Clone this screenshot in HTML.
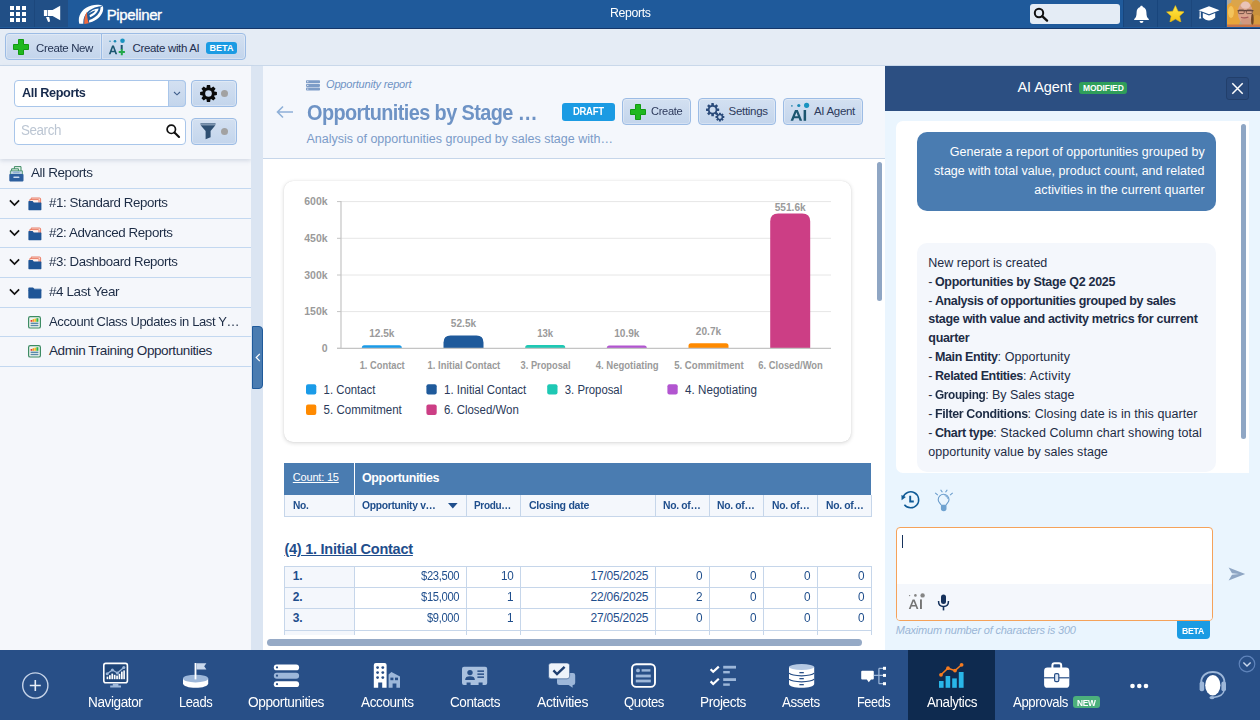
<!DOCTYPE html>
<html lang="en"><head>
<meta charset="utf-8">
<title>Reports</title>
<style>
*{box-sizing:border-box;margin:0;padding:0}
html,body{width:1260px;height:720px;overflow:hidden;background:#f4f7fc;font-family:"Liberation Sans",sans-serif;font-size:13px;color:#1d2c45}
.abs{position:absolute}
#app{position:relative;width:1260px;height:720px;overflow:hidden}
/* top bar */
#top{left:0;top:0;width:1260px;height:29px;background:#1f5a9b;border-bottom:1px solid #15376a;z-index:2}
#top .sq{position:absolute;top:0;height:26.7px;background:#214f86;border-right:1px solid #1c477c}
#top .title{position:absolute;left:0;width:1260px;top:5px;text-align:center;color:#fff;font-size:12.5px}
/* toolbar */
#tool{left:0;top:28px;width:1260px;height:38px;background:#e5ecf5;border-bottom:1px solid #c9d8ea}
.btn{position:absolute;background:linear-gradient(#d3e0f1,#c3d5ec);border:1px solid #9cbce5;box-shadow:inset 0 0 0 1px rgba(255,255,255,.3);border-radius:3px;font-size:12px;color:#1f2f4f;white-space:nowrap}
/* left */
#left{left:0;top:66px;width:251px;height:584px;background:#f5f7fb}
#lefthead{left:0;top:0;width:251px;height:93px;background:#f5f7fb;box-shadow:0 2px 4px rgba(120,140,170,.25)}
.row{position:absolute;left:0;width:251px;height:30px;border-bottom:1px solid #c3d8f0;font-size:13.5px;color:#1d2c45;white-space:nowrap}
.row span{position:absolute;top:6px;line-height:16px}
#split{left:251px;top:66px;width:12px;height:584px;background:#dbe5f2}
/* main */
#main{left:263px;top:66px;width:622px;height:584px;background:#fff}
#mhead{left:0;top:0;width:622px;height:93px;background:#f4f7fc;border-bottom:1px solid #c6d6ea}
/* AI panel */
#ai{left:885px;top:66px;width:375px;height:584px;background:#eaf5fe}
#aihead{left:0;top:0;width:375px;height:45px;background:#2c4f82}
/* bottom nav */
#nav{left:0;top:650px;width:1260px;height:70px;background:#284f87}
.ni{position:absolute;top:0;height:70px;color:#fff;font-size:14px;text-align:center}
.ni .lb{position:absolute;left:-30px;right:-30px;top:43px;text-align:center;white-space:nowrap}
.th{font-size:11px;line-height:14px;font-weight:700;color:#1f4e8c;white-space:nowrap}
.td{font-size:12px;line-height:14px;color:#1f4e8c;white-space:nowrap}
.bl{font-size:12.5px;line-height:18px;color:#fff;white-space:nowrap}
.gl{font-size:12.5px;line-height:18px;color:#1d2c45;white-space:nowrap}
.nl{font-size:14px;line-height:17px;color:#fff;white-space:nowrap}
</style>
</head>
<body>
<div id="app">

<!-- TOPBAR -->
<div id="top" class="abs">
  <div class="sq" style="left:0;width:35px"></div>
  <div class="sq" style="left:35px;width:33px;border-right:none"></div>
  <svg class="abs" style="left:10px;top:6px" width="17" height="17" viewBox="0 0 17 17" fill="#fff">
    <rect x="0" y="0" width="4" height="4"></rect><rect x="6" y="0" width="4" height="4"></rect><rect x="12" y="0" width="4" height="4"></rect>
    <rect x="0" y="6" width="4" height="4"></rect><rect x="6" y="6" width="4" height="4"></rect><rect x="12" y="6" width="4" height="4"></rect>
    <rect x="0" y="12" width="4" height="4"></rect><rect x="6" y="12" width="4" height="4"></rect><rect x="12" y="12" width="4" height="4"></rect>
  </svg>
  <svg class="abs" style="left:43px;top:5px" width="18" height="18" viewBox="0 0 18 18" fill="#fff">
    <rect x="0.9" y="5" width="3.3" height="6" rx=".6"></rect>
    <path d="M4.8 5 H9.6 L17.2 0.7 V15.3 L9.6 11 H4.8 Z"></path>
    <path d="M3 12 H6.2 L7.1 16.6 L5.1 16.9 Z"></path>
  </svg>
  <svg class="abs" style="left:78px;top:4px" width="27" height="21" viewBox="0 0 27 21">
    <path d="M1.3 19.8 C-0.8 12 4 4 13.6 1.5 C18 0.4 22.4 0.7 24.8 2 C19.8 2.3 13.6 4 9.6 8 C6.2 11.4 5 15.6 5.4 19.8 Z" fill="#fff"></path>
    <path d="M24.8 2 C26.4 6.6 23.4 12.2 18.4 15.6 C15.4 17.6 12.8 18.4 10.9 18.4 L11.3 16 C14.8 15.2 19 12.4 21.2 8.6 C22.2 6.8 22.6 5 22.4 3.6 Z" fill="#fff"></path>
    <path d="M9.6 10.2 C12.6 6.6 16.6 4.6 20.6 4.4 C20.2 7.4 17 11.2 12 13.2 L11.5 11.2 C14.4 10 16.6 8.2 17.4 6.6 C14.6 7.2 11.8 8.6 9.6 10.2 Z" fill="#fff"></path>
    <path d="M6.3 19.9 C6 15 6.9 11 9 7.8 C9 12 9.5 16 10.8 19.3 Z" fill="#f26a3e"></path>
  </svg>
  <span class="abs" style="left: 106.7px; top: 5.5px; color: rgb(255, 255, 255); font-size: 15px; line-height: 18px; -webkit-text-stroke: 0.35px rgb(255, 255, 255); white-space: nowrap; letter-spacing: -0.37px;">Pipeliner</span>
  <span class="abs" style="left: 609.7px; top: 6px; color: rgb(255, 255, 255); font-size: 12.5px; line-height: 15px; white-space: nowrap; letter-spacing: -0.37px; transform: scaleX(0.986); transform-origin: 0px 50%;">Reports</span>
  <div class="abs" style="left:1030px;top:4px;width:90px;height:20px;background:#e4ecf5;border-radius:3px"></div>
  <svg class="abs" style="left:1033px;top:7px" width="16" height="15" viewBox="0 0 16 15" fill="none" stroke="#111" stroke-width="2">
    <circle cx="6" cy="6" r="4.2"></circle><path d="M9.2 9.2 L14 13.6" stroke-width="2.4" stroke-linecap="round"></path>
  </svg>
  <div class="sq" style="left:1123px;width:35px;border-right:1px solid #18457c;border-left:1px solid #18457c"></div>
  <div class="sq" style="left:1158px;width:34px"></div>
  <div class="sq" style="left:1192px;width:34px"></div>
  <svg class="abs" style="left:1133px;top:5px" width="17" height="19" viewBox="0 0 17 19" fill="#fff">
    <path d="M8.5 0.8 C9.3 0.8 9.8 1.3 9.8 2.1 C12.2 2.8 13.4 4.8 13.4 7.4 C13.4 11 14.2 12.6 15.8 14 L15.8 15 L1.2 15 L1.2 14 C2.8 12.6 3.6 11 3.6 7.4 C3.6 4.8 4.8 2.8 7.2 2.1 C7.2 1.3 7.7 0.8 8.5 0.8Z"></path>
    <path d="M6.6 16 L10.4 16 C10.4 17.2 9.6 18 8.5 18 C7.4 18 6.6 17.2 6.6 16Z"></path>
  </svg>
  <svg class="abs" style="left:1165.6px;top:4.6px" width="18.8" height="17.9" viewBox="0 0 20 19">
    <defs><linearGradient id="stg" x1="0" y1="0" x2="0" y2="1"><stop offset="0" stop-color="#ffe94a"></stop><stop offset="1" stop-color="#f5c211"></stop></linearGradient></defs>
    <path d="M10 0.6 L12.8 6.6 L19.4 7.3 L14.5 11.8 L15.9 18.3 L10 15 L4.1 18.3 L5.5 11.8 L0.6 7.3 L7.2 6.6 Z" fill="url(#stg)" stroke="#e8b90f" stroke-width=".6" stroke-linejoin="round"></path>
  </svg>
  <svg class="abs" style="left:1198px;top:6px" width="22" height="16" viewBox="0 0 22 16" fill="#fff">
    <path d="M11 0.3 L21.5 4.2 L11 8.2 L0.5 4.2 Z"></path>
    <path d="M4.8 7 L11 9.4 L17.2 7 L17.2 11.6 C15.5 13.6 13.2 14.4 11 14.4 C8.8 14.4 6.5 13.6 4.8 11.6 Z"></path>
    <path d="M1.6 5.2 L2.8 5.6 L2.8 10.6 L3.4 12.6 L1 12.6 L1.6 10.6 Z"></path>
  </svg>
  <svg class="abs" style="left:1227px;top:0" width="33" height="27" viewBox="0 0 33 27">
    <defs><filter id="avb" x="-20%" y="-20%" width="140%" height="140%"><feGaussianBlur stdDeviation="0.65"></feGaussianBlur></filter>
    <clipPath id="avc"><rect width="33" height="27"></rect></clipPath></defs>
    <g clip-path="url(#avc)">
    <rect width="33" height="27" fill="#b3a48a"></rect>
    <g filter="url(#avb)">
      <rect x="-2" y="-2" width="9" height="9" fill="#a9a8a4"></rect>
      <rect x="27" y="-2" width="8" height="6" fill="#b0a898"></rect>
      <ellipse cx="5.5" cy="16" rx="8.5" ry="13.5" fill="#e7a53a"></ellipse>
      <ellipse cx="4" cy="12" rx="3" ry="6" fill="#f3c35c"></ellipse>
      <ellipse cx="15" cy="2" rx="11" ry="5.5" fill="#dba54c"></ellipse>
      <ellipse cx="29" cy="14" rx="6.5" ry="14" fill="#c9913d"></ellipse>
      <ellipse cx="30" cy="22" rx="5" ry="7" fill="#d69a3e"></ellipse>
      <ellipse cx="18.2" cy="12.6" rx="7.4" ry="11" fill="#d9a28b"></ellipse>
      <ellipse cx="18.5" cy="5.2" rx="4.6" ry="3.6" fill="#e9c3b8"></ellipse>
      <ellipse cx="19" cy="21" rx="5" ry="4" fill="#d09880"></ellipse>
      <ellipse cx="25.4" cy="19.5" rx="1.3" ry="6" fill="#6e4426"></ellipse>
      <rect x="0" y="24.5" width="33" height="3" fill="#c9764a"></rect>
      <path d="M10.6 10.6 H26.4" stroke="#5b4038" stroke-width="1.3"></path>
      <rect x="11.4" y="10" width="5.8" height="3.6" rx="1" fill="none" stroke="#6a4a40" stroke-width=".9"></rect>
      <rect x="19.4" y="10" width="5.8" height="3.6" rx="1" fill="none" stroke="#6a4a40" stroke-width=".9"></rect>
      <path d="M14 17.2 Q17.5 18.6 21.4 17" stroke="#a5585a" stroke-width="1.1" fill="none"></path>
    </g></g>
  </svg>
</div>

<!-- TOOLBAR -->
<div id="tool" class="abs">
  <div class="btn" style="left:5px;top:5px;width:97px;height:27px;border-radius:4px 0 0 4px"></div>
  <div class="btn" style="left:101px;top:5px;width:145px;height:27px;border-radius:0 4px 4px 0"></div>
  <svg class="abs" style="left:13px;top:11px" width="16" height="16" viewBox="0 0 16 16">
    <path d="M5.5 0.5 H10.5 V5.5 H15.5 V10.5 H10.5 V15.5 H5.5 V10.5 H0.5 V5.5 H5.5 Z" fill="#1fb81f" stroke="#129a12" stroke-width="1"></path>
  </svg>
  <span class="abs" style="left: 35.8px; top: 13px; font-size: 11.5px; line-height: 14px; color: rgb(31, 47, 79); letter-spacing: -0.34px; transform: scaleX(0.995); transform-origin: 0px 50%;">Create New</span>
  <svg class="abs" style="left:108px;top:10px" width="19" height="18" viewBox="0 0 19 18">
    <circle cx="2" cy="3.2" r="0.7" fill="#1b7fa8"></circle><circle cx="7" cy="3.2" r="1.3" fill="#1b8ab5"></circle><circle cx="14.5" cy="2.8" r="2.3" fill="#1a93c0"></circle>
    <path d="M0.8 16.2 L4.1 7.6 L5.9 7.6 L9.2 16.2 L7.4 16.2 L6.7 14.2 L3.3 14.2 L2.6 16.2 Z M3.8 12.7 L6.2 12.7 L5 9.4 Z" fill="#1c5670"></path>
    <rect x="12.7" y="7" width="2" height="4.6" fill="#1c5670"></rect>
    <path d="M12.8 11 h2 v2.1 h2.1 v2 h-2.1 v2.1 h-2 v-2.1 h-2.1 v-2 h2.1 Z" fill="#22a84a"></path>
  </svg>
  <span class="abs" style="left: 132.5px; top: 13px; font-size: 11.5px; line-height: 14px; color: rgb(31, 47, 79); letter-spacing: -0.33px;">Create with AI</span>
  <div class="abs" style="left:206px;top:14px;width:31px;height:12px;background:#1b9be3;border-radius:3px"></div>
  <span class="abs" style="left: 209.5px; top: 15px; font-size: 9px; line-height: 10px; font-weight: 700; color: rgb(255, 255, 255); letter-spacing: 0.04px;">BETA</span>
</div>

<!-- LEFT -->
<div id="left" class="abs">
  <div class="row" style="top:92px;height:31px"><svg class="abs" style="left:9px;top:7.7px" width="15" height="16" viewBox="0 0 15 16">
      <path d="M5.4 0.6 H12 V8 H5.4 Z" fill="#e6f1ea" stroke="#3d8b63" stroke-width="1"></path>
      <path d="M2.6 2.8 H9.4 V8.4 H2.6 Z" fill="#dfeee5" stroke="#3d8b63" stroke-width="1"></path>
      <path d="M1.4 4.8 H13.4 V8.4 H1.4 Z" fill="#c4d6e8" stroke="#3d8b63" stroke-width=".8"></path>
      <rect x="4.2" y="5.6" width="6.4" height="1.6" fill="#8fb0d2"></rect>
      <rect x="0.3" y="8" width="14.2" height="7.4" rx=".8" fill="#2d5f9e"></rect>
      <rect x="4.4" y="10.4" width="6" height="1.7" rx=".5" fill="#c9d9ee"></rect>
    </svg><span style="left: 31px; top: 7px; letter-spacing: -0.4px; transform: scaleX(0.999); transform-origin: 0px 50%;">All Reports</span></div>
  <div class="row" style="top:123px"><svg class="abs" style="left:8px;top:10px" width="13" height="9" viewBox="0 0 13 9" fill="none" stroke="#111" stroke-width="1.7"><path d="M1.9 1.4 L6.5 6 L11.1 1.4"></path></svg><svg class="abs" style="left:28px;top:8px" width="14" height="14" viewBox="0 0 14 14">
      <path d="M3.2 1 H11.6 Q12.6 1 12.6 2 V7 H3.2 Z" fill="#fbdcd4" stroke="#e8735a" stroke-width=".9"></path>
      <path d="M1.8 2.6 H10 Q11 2.6 11 3.6 V8 H1.8 Z" fill="#fff1ed" stroke="#e8735a" stroke-width=".9"></path>
      <path d="M0.4 4.6 Q0.4 4 1 4 H4.6 L5.8 5.4 H12.8 Q13.4 5.4 13.4 6 V12.6 Q13.4 13.2 12.8 13.2 H1 Q0.4 13.2 0.4 12.6 Z" fill="#1f5596"></path>
    </svg><span style="left: 49px; letter-spacing: -0.4px; transform: scaleX(0.985); transform-origin: 0px 50%;">#1: Standard Reports</span></div>
  <div class="row" style="top:153px;height:29px"><svg class="abs" style="left:8px;top:10px" width="13" height="9" viewBox="0 0 13 9" fill="none" stroke="#111" stroke-width="1.7"><path d="M1.9 1.4 L6.5 6 L11.1 1.4"></path></svg><svg class="abs" style="left:28px;top:8px" width="14" height="14" viewBox="0 0 14 14">
      <path d="M3.2 1 H11.6 Q12.6 1 12.6 2 V7 H3.2 Z" fill="#fbdcd4" stroke="#e8735a" stroke-width=".9"></path>
      <path d="M1.8 2.6 H10 Q11 2.6 11 3.6 V8 H1.8 Z" fill="#fff1ed" stroke="#e8735a" stroke-width=".9"></path>
      <path d="M0.4 4.6 Q0.4 4 1 4 H4.6 L5.8 5.4 H12.8 Q13.4 5.4 13.4 6 V12.6 Q13.4 13.2 12.8 13.2 H1 Q0.4 13.2 0.4 12.6 Z" fill="#1f5596"></path>
    </svg><span style="left: 49px; letter-spacing: -0.4px; transform: scaleX(0.99); transform-origin: 0px 50%;">#2: Advanced Reports</span></div>
  <div class="row" style="top:182px"><svg class="abs" style="left:8px;top:10px" width="13" height="9" viewBox="0 0 13 9" fill="none" stroke="#111" stroke-width="1.7"><path d="M1.9 1.4 L6.5 6 L11.1 1.4"></path></svg><svg class="abs" style="left:28px;top:8px" width="14" height="14" viewBox="0 0 14 14">
      <path d="M3.2 1 H11.6 Q12.6 1 12.6 2 V7 H3.2 Z" fill="#fbdcd4" stroke="#e8735a" stroke-width=".9"></path>
      <path d="M1.8 2.6 H10 Q11 2.6 11 3.6 V8 H1.8 Z" fill="#fff1ed" stroke="#e8735a" stroke-width=".9"></path>
      <path d="M0.4 4.6 Q0.4 4 1 4 H4.6 L5.8 5.4 H12.8 Q13.4 5.4 13.4 6 V12.6 Q13.4 13.2 12.8 13.2 H1 Q0.4 13.2 0.4 12.6 Z" fill="#1f5596"></path>
    </svg><span style="left: 49px; letter-spacing: -0.4px; transform: scaleX(0.98); transform-origin: 0px 50%;">#3: Dashboard Reports</span></div>
  <div class="row" style="top:212px"><svg class="abs" style="left:8px;top:10px" width="13" height="9" viewBox="0 0 13 9" fill="none" stroke="#111" stroke-width="1.7"><path d="M1.9 1.4 L6.5 6 L11.1 1.4"></path></svg><svg class="abs" style="left:28px;top:9px" width="14" height="12" viewBox="0 0 14 12">
      <path d="M0.3 1.2 Q0.3 0.4 1.1 0.4 H5 L6.4 1.8 H12.6 Q13.4 1.8 13.4 2.6 V3.4 H0.3 Z" fill="#1f5596"></path>
      <path d="M0.3 3 H13.4 V10.6 Q13.4 11.4 12.6 11.4 H1.1 Q0.3 11.4 0.3 10.6 Z" fill="#1f5596"></path>
      <path d="M6.4 2.4 H13" stroke="#6f98c8" stroke-width=".5"></path>
    </svg><span style="left: 49px; letter-spacing: -0.4px; transform: scaleX(0.997); transform-origin: 0px 50%;">#4 Last Year</span></div>
  <div class="row" style="top:242px;height:29px"><svg class="abs" style="left:28px;top:8px" width="13" height="13" viewBox="0 0 13 13">
      <rect x="0.6" y="0.6" width="11.8" height="11.4" rx="1.6" fill="#eef5f0" stroke="#3d8b63" stroke-width="1.2"></rect>
      <rect x="2.6" y="4" width="1.8" height="1.8" fill="#e8382f"></rect><rect x="4.6" y="3.2" width="1.8" height="2.6" fill="#f39a1f"></rect><rect x="6.6" y="2.6" width="1.6" height="3.2" fill="#f3c11f"></rect><rect x="8.4" y="2.2" width="2" height="3.6" fill="#2fb344"></rect>
      <rect x="2.6" y="6.6" width="7.8" height="1.4" fill="#5b8aa8"></rect><rect x="2.6" y="8.8" width="7.8" height="1.4" fill="#5b8aa8"></rect>
    </svg><span style="left: 49px; letter-spacing: -0.4px; transform: scaleX(0.965); transform-origin: 0px 50%;">Account Class Updates in Last Y…</span></div>
  <div class="row" style="top:271px"><svg class="abs" style="left:28px;top:8px" width="13" height="13" viewBox="0 0 13 13">
      <rect x="0.6" y="0.6" width="11.8" height="11.4" rx="1.6" fill="#eef5f0" stroke="#3d8b63" stroke-width="1.2"></rect>
      <rect x="2.6" y="4" width="1.8" height="1.8" fill="#e8382f"></rect><rect x="4.6" y="3.2" width="1.8" height="2.6" fill="#f39a1f"></rect><rect x="6.6" y="2.6" width="1.6" height="3.2" fill="#f3c11f"></rect><rect x="8.4" y="2.2" width="2" height="3.6" fill="#2fb344"></rect>
      <rect x="2.6" y="6.6" width="7.8" height="1.4" fill="#5b8aa8"></rect><rect x="2.6" y="8.8" width="7.8" height="1.4" fill="#5b8aa8"></rect>
    </svg><span style="left: 49px; letter-spacing: -0.4px;">Admin Training Opportunities</span></div>
  <div id="lefthead" class="abs">
    <div class="abs" style="left:14px;top:14px;width:172px;height:27px;background:#fff;border:1px solid #a9c6ea;border-radius:4px"></div>
    <div class="abs" style="left:168px;top:14px;width:18px;height:27px;background:linear-gradient(#d3e0f1,#c3d5ec);border:1px solid #a9c6ea;border-radius:0 4px 4px 0"></div>
    <svg class="abs" style="left:172px;top:24px" width="10" height="7" viewBox="0 0 10 7" fill="none" stroke="#41608c" stroke-width="1.1"><path d="M2 2 L5 4.8 L8 2"></path></svg>
    <span class="abs" style="left: 21.5px; top: 19px; font-size: 13px; line-height: 16px; font-weight: 700; color: rgb(23, 42, 76); letter-spacing: -0.39px; transform: scaleX(0.976); transform-origin: 0px 50%;">All Reports</span>
    <div class="btn" style="left:191px;top:14px;width:46px;height:27px;border-radius:4px"></div>
    <svg class="abs" style="left:199.5px;top:19px" width="17" height="17" viewBox="-8.5 -8.5 17 17">
      <g fill="#0a0a0a">
        <circle r="6"></circle>
        <g><path d="M-1.6 -8.4 H1.6 L2.2 -5 H-2.2 Z"></path><path d="M-1.6 8.4 H1.6 L2.2 5 H-2.2 Z"></path></g><g transform="rotate(45)"><path d="M-1.6 -8.4 H1.6 L2.2 -5 H-2.2 Z"></path><path d="M-1.6 8.4 H1.6 L2.2 5 H-2.2 Z"></path></g><g transform="rotate(90)"><path d="M-1.6 -8.4 H1.6 L2.2 -5 H-2.2 Z"></path><path d="M-1.6 8.4 H1.6 L2.2 5 H-2.2 Z"></path></g><g transform="rotate(135)"><path d="M-1.6 -8.4 H1.6 L2.2 -5 H-2.2 Z"></path><path d="M-1.6 8.4 H1.6 L2.2 5 H-2.2 Z"></path></g>
      </g>
      <circle r="3.3" fill="#cbdaee"></circle>
    </svg>
    <div class="abs" style="left:221px;top:24px;width:7px;height:7px;border-radius:50%;background:#a2a2a2"></div>
    <div class="abs" style="left:14px;top:52px;width:172px;height:27px;background:#fff;border:1px solid #a9c6ea;border-radius:4px"></div>
    <span class="abs" style="left: 21px; top: 56px; font-size: 14px; line-height: 17px; color: rgb(188, 198, 211); letter-spacing: -0.42px; transform: scaleX(0.956); transform-origin: 0px 50%;">Search</span>
    <svg class="abs" style="left:165px;top:57px" width="16" height="16" viewBox="0 0 16 16" fill="none" stroke="#111" stroke-width="1.7"><circle cx="6.3" cy="6.3" r="4.2"></circle><path d="M9.5 9.5 L14 14" stroke-width="2.1" stroke-linecap="round"></path></svg>
    <div class="btn" style="left:191px;top:52px;width:46px;height:27px;border-radius:4px"></div>
    <svg class="abs" style="left:199.5px;top:56.5px" width="16" height="17" viewBox="0 0 16 17" fill="#2e4f72">
      <rect x="0.4" y="0.4" width="15.2" height="1.1"></rect>
      <path d="M0.6 2.2 H15.4 L10.6 8 V14.2 L5.6 16.2 V8 Z"></path>
    </svg>
    <div class="abs" style="left:221px;top:62px;width:7px;height:7px;border-radius:50%;background:#a2a2a2"></div>
  </div>
</div>
<div id="split" class="abs">
  <div class="abs" style="left:1px;top:260px;width:11px;height:63px;background:#4a7cb1;border:1px solid #1f5a9b;border-radius:0 4px 4px 0"></div>
  <svg class="abs" style="left:3.5px;top:287px" width="6" height="9" viewBox="0 0 6 9" fill="none" stroke="#fff" stroke-width="1.2"><path d="M4.8 0.8 L1.2 4.5 L4.8 8.2"></path></svg>
</div>

<!-- MAIN -->
<div id="main" class="abs">
  <div id="mhead" class="abs">
    <svg class="abs" style="left:43px;top:14px" width="14" height="11" viewBox="0 0 14 11" fill="#7d9cc7">
      <rect x="0" y="0.2" width="14" height="3" rx=".8"></rect><rect x="0" y="3.9" width="14" height="3" rx=".8"></rect><rect x="0" y="7.6" width="14" height="3" rx=".8"></rect>
      <circle cx="1.8" cy="1.7" r=".6" fill="#f4f7fc"></circle><circle cx="1.8" cy="5.4" r=".6" fill="#f4f7fc"></circle><circle cx="1.8" cy="9.1" r=".6" fill="#f4f7fc"></circle>
    </svg>
    <span class="abs" style="left: 63px; top: 11px; font-size: 11px; line-height: 14px; font-style: italic; color: rgb(111, 147, 196); letter-spacing: -0.18px;">Opportunity report</span>
    <svg class="abs" style="left:13px;top:39px" width="18" height="14" viewBox="0 0 18 14" fill="none" stroke="#8fb0d8" stroke-width="1.6"><path d="M17 7 H1.5 M7 1.5 L1.5 7 L7 12.5"></path></svg>
    <span class="abs" style="left: 43.5px; top: 34.3px; font-size: 21.5px; line-height: 26px; font-weight: 700; color: rgb(110, 147, 197); white-space: nowrap; letter-spacing: -0.64px; transform: scaleX(0.925); transform-origin: 0px 50%;">Opportunities by Stage …</span>
    <span class="abs" style="left: 43.5px; top: 66.3px; font-size: 12.5px; line-height: 15px; color: rgb(123, 155, 200); white-space: nowrap; letter-spacing: 0px;">Analysis of opportunities grouped by sales stage with…</span>
    <div class="abs" style="left:299px;top:37px;width:53px;height:18px;background:#1b9be3;border-radius:3px"></div>
    <span class="abs" style="left: 310.3px; top: 40.3px; font-size: 10px; line-height: 11px; font-weight: 700; color: rgb(255, 255, 255); letter-spacing: -0.3px; transform: scaleX(0.948); transform-origin: 0px 50%;">DRAFT</span>

    <div class="btn" style="left:359px;top:32px;width:69px;height:27px;border-radius:4px"></div>
    <svg class="abs" style="left:367px;top:38px" width="16" height="16" viewBox="0 0 16 16">
      <path d="M5.5 0.5 H10.5 V5.5 H15.5 V10.5 H10.5 V15.5 H5.5 V10.5 H0.5 V5.5 H5.5 Z" fill="#1fb81f" stroke="#129a12" stroke-width="1"></path>
    </svg>
    <span class="abs" style="left: 388px; top: 37.5px; font-size: 11.5px; line-height: 14px; color: rgb(45, 58, 92); letter-spacing: -0.34px; transform: scaleX(0.964); transform-origin: 0px 50%;">Create</span>

    <div class="btn" style="left:435px;top:32px;width:78px;height:27px;border-radius:4px"></div>
    <svg class="abs" style="left:442px;top:36px" width="20" height="20" viewBox="0 0 20 20">
      <g transform="translate(7.6 7.7)" fill="#2a4a7a">
        <circle r="4.8"></circle>
        <rect x="-1.3" y="-6.6" width="2.6" height="13.2" rx=".4"></rect><g transform="rotate(45)"><rect x="-1.3" y="-6.6" width="2.6" height="13.2" rx=".4"></rect></g><g transform="rotate(90)"><rect x="-1.3" y="-6.6" width="2.6" height="13.2" rx=".4"></rect></g><g transform="rotate(135)"><rect x="-1.3" y="-6.6" width="2.6" height="13.2" rx=".4"></rect></g>
        <circle r="3" fill="#cbdaee"></circle>
      </g>
      <g transform="translate(14.9 15.1)" fill="#2a4a7a">
        <circle r="3.1"></circle>
        <rect x="-1" y="-4.4" width="2" height="8.8" rx=".3"></rect><g transform="rotate(45)"><rect x="-1" y="-4.4" width="2" height="8.8" rx=".3"></rect></g><g transform="rotate(90)"><rect x="-1" y="-4.4" width="2" height="8.8" rx=".3"></rect></g><g transform="rotate(135)"><rect x="-1" y="-4.4" width="2" height="8.8" rx=".3"></rect></g>
        <circle r="1.8" fill="#c7d8ed"></circle>
      </g>
    </svg>
    <span class="abs" style="left: 465.6px; top: 37.5px; font-size: 11.5px; line-height: 14px; color: rgb(45, 58, 92); letter-spacing: -0.3px;">Settings</span>

    <div class="btn" style="left:520px;top:32px;width:80px;height:27px;border-radius:4px"></div>
    <svg class="abs" style="left:527px;top:36px" width="21" height="20" viewBox="0 0 21 20">
      <circle cx="1.9" cy="3.9" r="0.8" fill="#1b7fa8"></circle><circle cx="8.8" cy="3.5" r="1.6" fill="#1b8ab5"></circle><circle cx="16.6" cy="3.3" r="2.6" fill="#1a93c0"></circle>
      <path d="M0.6 18.8 L5 8 L7.8 8 L12.2 18.8 L9.6 18.8 L8.7 16.3 L4.1 16.3 L3.2 18.8 Z M4.9 14.2 L7.9 14.2 L6.4 10.2 Z" fill="#1c5670"></path>
      <rect x="13.6" y="8" width="2.5" height="10.8" fill="#1c5670"></rect>
    </svg>
    <span class="abs" style="left: 551px; top: 37.5px; font-size: 11.5px; line-height: 14px; color: rgb(45, 58, 92); letter-spacing: -0.31px;">AI Agent</span>
  </div>
  
  <div class="abs" style="left:21px;top:114.6px;width:567px;height:261.4px;background:#fff;border-radius:9px;box-shadow:0 1px 4px rgba(0,0,0,.16),0 0 1px rgba(0,0,0,.12)"></div>
  <svg class="abs" style="left:0;top:0" width="622" height="584" viewBox="263 66 622 584">
    <style>.cl{font:700 10.5px "Liberation Sans",sans-serif;fill:#9a9a9a}.lg{font:400 12px "Liberation Sans",sans-serif;fill:#2a3a5a}</style>
    <path d="M337 348.3 H341" stroke="#c4c4c4" stroke-width="1"></path>
    <text x="327.6" y="352.1" text-anchor="end" class="cl">0</text>
    <path d="M341 311.6 H831" stroke="#e6e6e6" stroke-width="1"></path>
    <path d="M337 311.6 H341" stroke="#c4c4c4" stroke-width="1"></path>
    <text x="327.6" y="315.4" text-anchor="end" class="cl">150k</text>
    <path d="M341 275.0 H831" stroke="#e6e6e6" stroke-width="1"></path>
    <path d="M337 275.0 H341" stroke="#c4c4c4" stroke-width="1"></path>
    <text x="327.6" y="278.8" text-anchor="end" class="cl">300k</text>
    <path d="M341 238.3 H831" stroke="#e6e6e6" stroke-width="1"></path>
    <path d="M337 238.3 H341" stroke="#c4c4c4" stroke-width="1"></path>
    <text x="327.6" y="242.1" text-anchor="end" class="cl">450k</text>
    <path d="M341 201.6 H831" stroke="#e6e6e6" stroke-width="1"></path>
    <path d="M337 201.6 H341" stroke="#c4c4c4" stroke-width="1"></path>
    <text x="327.6" y="205.4" text-anchor="end" class="cl">600k</text>
    <path d="M341 201 V348.8" stroke="#c4c4c4" stroke-width="1.2"></path>
    <path d="M361.8 348.3 V347.7 Q361.8 345.2 364.3 345.2 H399.3 Q401.8 345.2 401.8 347.7 V348.3 Z" fill="#1a9be8"></path>
    <text x="381.8" y="336.6" text-anchor="middle" class="cl" textLength="25.3" lengthAdjust="spacingAndGlyphs">12.5k</text>
    <text x="382.2" y="368.8" text-anchor="middle" class="cl" textLength="45" lengthAdjust="spacingAndGlyphs">1. Contact</text>
    <path d="M443.5 348.3 V342.5 Q443.5 335.5 450.5 335.5 H476.5 Q483.5 335.5 483.5 342.5 V348.3 Z" fill="#1f5a9b"></path>
    <text x="463.5" y="326.9" text-anchor="middle" class="cl" textLength="25.3" lengthAdjust="spacingAndGlyphs">52.5k</text>
    <text x="463.9" y="368.8" text-anchor="middle" class="cl" textLength="72.7" lengthAdjust="spacingAndGlyphs">1. Initial Contact</text>
    <path d="M525.2 348.3 V347.6 Q525.2 345.1 527.7 345.1 H562.7 Q565.2 345.1 565.2 347.6 V348.3 Z" fill="#1ec8b4"></path>
    <text x="545.2" y="336.5" text-anchor="middle" class="cl" textLength="16" lengthAdjust="spacingAndGlyphs">13k</text>
    <text x="545.6" y="368.8" text-anchor="middle" class="cl" textLength="50" lengthAdjust="spacingAndGlyphs">3. Proposal</text>
    <path d="M606.8 348.3 V348.1 Q606.8 345.6 609.3 345.6 H644.3 Q646.8 345.6 646.8 348.1 V348.3 Z" fill="#b255d0"></path>
    <text x="626.8" y="337.0" text-anchor="middle" class="cl" textLength="25.3" lengthAdjust="spacingAndGlyphs">10.9k</text>
    <text x="627.2" y="368.8" text-anchor="middle" class="cl" textLength="63" lengthAdjust="spacingAndGlyphs">4. Negotiating</text>
    <path d="M688.5 348.3 V345.7 Q688.5 343.2 691.0 343.2 H726.0 Q728.5 343.2 728.5 345.7 V348.3 Z" fill="#ff8a00"></path>
    <text x="708.5" y="334.6" text-anchor="middle" class="cl" textLength="25.3" lengthAdjust="spacingAndGlyphs">20.7k</text>
    <text x="708.9" y="368.8" text-anchor="middle" class="cl" textLength="69.5" lengthAdjust="spacingAndGlyphs">5. Commitment</text>
    <path d="M770.2 348.3 V221.4 Q770.2 213.4 778.2 213.4 H802.2 Q810.2 213.4 810.2 221.4 V348.3 Z" fill="#cc3e85"></path>
    <text x="790.2" y="211.2" text-anchor="middle" class="cl" textLength="31" lengthAdjust="spacingAndGlyphs">551.6k</text>
    <text x="790.6" y="368.8" text-anchor="middle" class="cl" textLength="64.5" lengthAdjust="spacingAndGlyphs">6. Closed/Won</text>
    <path d="M337 348.3 H831" stroke="#c4c4c4" stroke-width="1.3"></path>
    <rect x="306" y="384.2" width="10.3" height="10.4" rx="2" fill="#1a9be8"></rect>
    <text x="323.6" y="394.3" class="lg" textLength="51.8" lengthAdjust="spacingAndGlyphs">1. Contact</text>
    <rect x="426.4" y="384.2" width="10.3" height="10.4" rx="2" fill="#1f5a9b"></rect>
    <text x="444.0" y="394.3" class="lg" textLength="82.3" lengthAdjust="spacingAndGlyphs">1. Initial Contact</text>
    <rect x="547.2" y="384.2" width="10.3" height="10.4" rx="2" fill="#1ec8b4"></rect>
    <text x="564.8" y="394.3" class="lg" textLength="57.4" lengthAdjust="spacingAndGlyphs">3. Proposal</text>
    <rect x="667.4" y="384.2" width="10.3" height="10.4" rx="2" fill="#b255d0"></rect>
    <text x="685.0" y="394.3" class="lg" textLength="72" lengthAdjust="spacingAndGlyphs">4. Negotiating</text>
    <rect x="306" y="404.5" width="10.3" height="10.4" rx="2" fill="#ff8a00"></rect>
    <text x="323.6" y="413.7" class="lg" textLength="78.2" lengthAdjust="spacingAndGlyphs">5. Commitment</text>
    <rect x="426.4" y="404.5" width="10.3" height="10.4" rx="2" fill="#cc3e85"></rect>
    <text x="444.0" y="413.7" class="lg" textLength="74.8" lengthAdjust="spacingAndGlyphs">6. Closed/Won</text>
  </svg>
  <div class="abs" style="left:21.4px;top:397px;width:587.0px;height:32px;background:#4a7cb1"></div>
  <div class="abs" style="left:90.6px;top:397px;width:1.6px;height:32px;background:#fff"></div>
  <span class="abs" style="left: 29.8px; top: 404.5px; font-size: 11px; line-height: 13px; color: rgb(255, 255, 255); text-decoration: underline; white-space: nowrap; letter-spacing: -0.19px;">Count: 15</span>
  <span class="abs" style="left: 99px; top: 405px; font-size: 12.5px; line-height: 15px; font-weight: 700; color: rgb(255, 255, 255); white-space: nowrap; letter-spacing: -0.37px;">Opportunities</span>
  <div class="abs" style="left:21.4px;top:429px;width:587.5px;height:22px;background:#f4f7fc;border:1px solid #c6d6ea;border-top:none"></div>
  <div class="abs" style="left:90.9px;top:429px;width:1px;height:22px;background:#c6d6ea"></div>
  <div class="abs" style="left:202.9px;top:429px;width:1px;height:22px;background:#c6d6ea"></div>
  <div class="abs" style="left:256.8px;top:429px;width:1px;height:22px;background:#c6d6ea"></div>
  <div class="abs" style="left:391.8px;top:429px;width:1px;height:22px;background:#c6d6ea"></div>
  <div class="abs" style="left:445.9px;top:429px;width:1px;height:22px;background:#c6d6ea"></div>
  <div class="abs" style="left:500.1px;top:429px;width:1px;height:22px;background:#c6d6ea"></div>
  <div class="abs" style="left:554.0px;top:429px;width:1px;height:22px;background:#c6d6ea"></div>
  <span class="abs th" style="top: 432px; left: 29.8px; letter-spacing: -0.33px; transform: scaleX(0.926); transform-origin: 0px 50%;">No.</span>
  <span class="abs th" style="top: 432px; left: 99px; letter-spacing: -0.33px; transform: scaleX(0.938); transform-origin: 0px 50%;">Opportunity v…</span>
  <span class="abs th" style="top: 432px; left: 211.4px; letter-spacing: -0.33px; transform: scaleX(0.907); transform-origin: 0px 50%;">Produ…</span>
  <span class="abs th" style="top: 432px; left: 265.6px; letter-spacing: -0.33px; transform: scaleX(0.967); transform-origin: 0px 50%;">Closing date</span>
  <span class="abs th" style="top: 432px; left: 400.3px; letter-spacing: -0.33px; transform: scaleX(0.941); transform-origin: 0px 50%;">No. of…</span>
  <span class="abs th" style="top: 432px; left: 454.4px; letter-spacing: -0.33px; transform: scaleX(0.941); transform-origin: 0px 50%;">No. of…</span>
  <span class="abs th" style="top: 432px; left: 508.6px; letter-spacing: -0.33px; transform: scaleX(0.941); transform-origin: 0px 50%;">No. of…</span>
  <span class="abs th" style="top: 432px; left: 562.5px; letter-spacing: -0.33px; transform: scaleX(0.941); transform-origin: 0px 50%;">No. of…</span>
  <svg class="abs" style="left:185.3px;top:437px" width="10" height="6" viewBox="0 0 10 6"><path d="M0 0 H9.6 L4.8 5.4 Z" fill="#1f4e8c"></path></svg>
  <span class="abs" style="left: 21.4px; top: 474.5px; font-size: 14.5px; line-height: 17px; font-weight: 700; color: rgb(31, 78, 140); text-decoration: underline; white-space: nowrap; letter-spacing: -0.24px;">(4) 1. Initial Contact</span>
  <div class="abs" style="left:21.4px;top:500.2px;width:587.5px;height:68.4px;border:1px solid #c6d6ea;border-bottom:none;background:#fff"></div>
  <div class="abs" style="left:21.9px;top:500.7px;width:69.0px;height:67.9px;background:#f4f7fc"></div>
  <div class="abs" style="left:21.4px;top:521.1px;width:587.5px;height:1px;background:#c6d6ea"></div>
  <div class="abs" style="left:21.4px;top:541.9px;width:587.5px;height:1px;background:#c6d6ea"></div>
  <div class="abs" style="left:21.4px;top:563.9px;width:587.5px;height:1px;background:#c6d6ea"></div>
  <div class="abs" style="left:90.9px;top:500.2px;width:1px;height:68.4px;background:#c6d6ea"></div>
  <div class="abs" style="left:202.9px;top:500.2px;width:1px;height:68.4px;background:#c6d6ea"></div>
  <div class="abs" style="left:256.8px;top:500.2px;width:1px;height:68.4px;background:#c6d6ea"></div>
  <div class="abs" style="left:391.8px;top:500.2px;width:1px;height:68.4px;background:#c6d6ea"></div>
  <div class="abs" style="left:445.9px;top:500.2px;width:1px;height:68.4px;background:#c6d6ea"></div>
  <div class="abs" style="left:500.1px;top:500.2px;width:1px;height:68.4px;background:#c6d6ea"></div>
  <div class="abs" style="left:554.0px;top:500.2px;width:1px;height:68.4px;background:#c6d6ea"></div>
  <span class="abs td" style="left: 29.8px; top: 503px; font-weight: 700; letter-spacing: -0.26px;">1.</span>
  <span class="abs td" style="left: 157.6px; top: 503px; letter-spacing: -0.36px; transform: scaleX(0.937); transform-origin: 0px 50%;">$23,500</span>
  <span class="abs td" style="left: 237.5px; top: 503px; letter-spacing: -0.36px; transform: scaleX(0.973); transform-origin: 0px 50%;">10</span>
  <span class="abs td" style="left: 327.6px; top: 503px; letter-spacing: -0.24px;">17/05/2025</span>
  <span class="abs td" style="left: 432.5px; top: 503px; letter-spacing: -0.36px; transform: scaleX(0.98); transform-origin: 0px 50%;">0</span>
  <span class="abs td" style="left: 486.6px; top: 503px; letter-spacing: -0.36px; transform: scaleX(0.98); transform-origin: 0px 50%;">0</span>
  <span class="abs td" style="left: 540.8px; top: 503px; letter-spacing: -0.36px; transform: scaleX(0.98); transform-origin: 0px 50%;">0</span>
  <span class="abs td" style="left: 595px; top: 503px; letter-spacing: -0.36px; transform: scaleX(0.98); transform-origin: 0px 50%;">0</span>
  <span class="abs td" style="left: 29.8px; top: 524px; font-weight: 700; letter-spacing: -0.26px;">2.</span>
  <span class="abs td" style="left: 157.6px; top: 524px; letter-spacing: -0.36px; transform: scaleX(0.937); transform-origin: 0px 50%;">$15,000</span>
  <span class="abs td" style="left: 243.6px; top: 524px; letter-spacing: -0.36px; transform: scaleX(0.98); transform-origin: 0px 50%;">1</span>
  <span class="abs td" style="left: 327.6px; top: 524px; letter-spacing: -0.24px;">22/06/2025</span>
  <span class="abs td" style="left: 432.5px; top: 524px; letter-spacing: -0.36px; transform: scaleX(0.98); transform-origin: 0px 50%;">2</span>
  <span class="abs td" style="left: 486.6px; top: 524px; letter-spacing: -0.36px; transform: scaleX(0.98); transform-origin: 0px 50%;">0</span>
  <span class="abs td" style="left: 540.8px; top: 524px; letter-spacing: -0.36px; transform: scaleX(0.98); transform-origin: 0px 50%;">0</span>
  <span class="abs td" style="left: 595px; top: 524px; letter-spacing: -0.36px; transform: scaleX(0.98); transform-origin: 0px 50%;">0</span>
  <span class="abs td" style="left: 29.8px; top: 545px; font-weight: 700; letter-spacing: -0.26px;">3.</span>
  <span class="abs td" style="left: 163.9px; top: 545px; letter-spacing: -0.36px; transform: scaleX(0.926); transform-origin: 0px 50%;">$9,000</span>
  <span class="abs td" style="left: 243.6px; top: 545px; letter-spacing: -0.36px; transform: scaleX(0.98); transform-origin: 0px 50%;">1</span>
  <span class="abs td" style="left: 327.6px; top: 545px; letter-spacing: -0.24px;">27/05/2025</span>
  <span class="abs td" style="left: 432.5px; top: 545px; letter-spacing: -0.36px; transform: scaleX(0.98); transform-origin: 0px 50%;">0</span>
  <span class="abs td" style="left: 486.6px; top: 545px; letter-spacing: -0.36px; transform: scaleX(0.98); transform-origin: 0px 50%;">0</span>
  <span class="abs td" style="left: 540.8px; top: 545px; letter-spacing: -0.36px; transform: scaleX(0.98); transform-origin: 0px 50%;">0</span>
  <span class="abs td" style="left: 595px; top: 545px; letter-spacing: -0.36px; transform: scaleX(0.98); transform-origin: 0px 50%;">0</span>
  <div class="abs" style="left:4px;top:573px;width:595px;height:6.5px;background:#96aac6;border-radius:3.5px"></div>
  <div class="abs" style="left:613.5px;top:96px;width:5px;height:139px;background:#8fa6c4;border-radius:3px"></div>
</div>

<!-- AI -->
<div id="ai" class="abs">
  <div id="aihead" class="abs">
  <span class="abs" style="left: 132.4px; top: 13px; font-size: 14.5px; line-height: 17px; color: rgb(255, 255, 255); white-space: nowrap; letter-spacing: -0.05px;">AI Agent</span>
  <div class="abs" style="left:194px;top:16px;width:48px;height:11.6px;background:#2f9e5a;border-radius:3px"></div>
  <span class="abs" style="left: 198.1px; top: 18.4px; font-size: 8.5px; line-height: 9px; font-weight: 700; color: rgb(255, 255, 255); white-space: nowrap; letter-spacing: -0.12px;">MODIFIED</span>
  <div class="abs" style="left:341px;top:11px;width:23px;height:23px;background:#2a4a7b;border:1px solid #223f6b;border-radius:3px"></div>
  <svg class="abs" style="left:346px;top:15.5px" width="13" height="13" viewBox="0 0 13 13" stroke="#fff" stroke-width="1.5" fill="none"><path d="M1.3 1.3 L11.7 11.7 M11.7 1.3 L1.3 11.7"></path></svg>
  </div>
  <div class="abs" style="left:11px;top:55px;width:353px;height:351.5px;background:#fff;border-radius:7px 0 0 7px;overflow:hidden">
  <div class="abs" style="left:21px;top:11px;width:299px;height:78.6px;background:#4a7cb1;border-radius:10px"></div>
  <span class="abs bl" style="left: 53.7px; top: 21.6px; letter-spacing: 0.03px;">Generate a report of opportunities grouped by</span>
  <span class="abs bl" style="left: 38.1px; top: 40.6px; letter-spacing: 0.03px;">stage with total value, product count, and related</span>
  <span class="abs bl" style="left: 138.3px; top: 59.5px; letter-spacing: 0.09px;">activities in the current quarter</span>
  <div class="abs" style="left:21px;top:122.3px;width:299px;height:229px;background:#f4f7fc;border-radius:10px"></div>
  <span class="abs gl" style="left: 32.3px; top: 132.7px; letter-spacing: 0.01px;">New report is created</span>
  <span class="abs gl" style="left: 32.3px; top: 151.7px; letter-spacing: 1.21px;">- </span>
  <span class="abs gl" style="left: 38.9px; top: 151.7px; font-weight: 700; letter-spacing: -0.29px;">Opportunities by Stage Q2 2025</span>
  <span class="abs gl" style="left: 32.3px; top: 170.7px; letter-spacing: 1.21px;">- </span>
  <span class="abs gl" style="left: 38.9px; top: 170.7px; font-weight: 700; letter-spacing: -0.37px;">Analysis of opportunities grouped by sales</span>
  <span class="abs gl" style="left: 32.3px; top: 189.3px; font-weight: 700; letter-spacing: -0.29px;">stage with value and activity metrics for current</span>
  <span class="abs gl" style="left: 32.3px; top: 207.7px; font-weight: 700; letter-spacing: -0.3px;">quarter</span>
  <span class="abs gl" style="left: 32.3px; top: 226.7px; letter-spacing: 1.21px;">- </span>
  <span class="abs gl" style="left: 38.9px; top: 226.7px; font-weight: 700; letter-spacing: -0.36px;">Main Entity</span>
  <span class="abs gl" style="left: 101.6px; top: 226.7px; letter-spacing: 0.06px;">: Opportunity</span>
  <span class="abs gl" style="left: 32.3px; top: 245.7px; letter-spacing: 1.21px;">- </span>
  <span class="abs gl" style="left: 38.9px; top: 245.7px; font-weight: 700; letter-spacing: -0.36px;">Related Entities</span>
  <span class="abs gl" style="left: 126.9px; top: 245.7px; letter-spacing: 0.2px;">: Activity</span>
  <span class="abs gl" style="left: 32.3px; top: 264.7px; letter-spacing: 1.21px;">- </span>
  <span class="abs gl" style="left: 38.9px; top: 264.7px; font-weight: 700; letter-spacing: -0.37px; transform: scaleX(0.946); transform-origin: 0px 50%;">Grouping</span>
  <span class="abs gl" style="left: 89.3px; top: 264.7px; letter-spacing: -0.08px;">: By Sales stage</span>
  <span class="abs gl" style="left: 32.3px; top: 283.7px; letter-spacing: 1.21px;">- </span>
  <span class="abs gl" style="left: 38.9px; top: 283.7px; font-weight: 700; letter-spacing: -0.37px; transform: scaleX(0.997); transform-origin: 0px 50%;">Filter Conditions</span>
  <span class="abs gl" style="left: 131.6px; top: 283.7px; letter-spacing: 0.05px;">: Closing date is in this quarter</span>
  <span class="abs gl" style="left: 32.3px; top: 302.7px; letter-spacing: 1.21px;">- </span>
  <span class="abs gl" style="left: 38.9px; top: 302.7px; font-weight: 700; letter-spacing: -0.34px;">Chart type</span>
  <span class="abs gl" style="left: 97.3px; top: 302.7px; letter-spacing: 0.06px;">: Stacked Column chart showing total</span>
  <span class="abs gl" style="left: 32.3px; top: 321.7px; letter-spacing: 0.03px;">opportunity value by sales stage</span>
  <div class="abs" style="left:344.5px;top:3px;width:5.5px;height:315px;background:#8fa6c4;border-radius:3px"></div>
  </div>
  <svg class="abs" style="left:15.5px;top:424px" width="20" height="20" viewBox="0 0 20 20" fill="none" stroke="#0f5a96" stroke-width="1.5">
  <path d="M2.0 7.6 A8 8 0 1 1 3.4 14.8"></path><path d="M0.4 4.9 L4.9 7 L0.6 10.2 Z" fill="#0f5a96" stroke="none"></path>
  <path d="M9.2 5.8 V11.5 H12.8" stroke-width="1.9"></path></svg>
  <svg class="abs" style="left:49px;top:421.5px" width="21" height="24" viewBox="0 0 21 24" fill="none" stroke="#6a9ccc" stroke-width="1.1">
  <path d="M7 17 C6.7 15.2 4.2 14.4 4.2 11.7 A5.4 5.4 0 0 1 15 11.7 C15 14.4 12.5 15.2 12.2 17"></path>
  <path d="M6.9 16.8 H12.5 V20.6 Q12.5 23.3 9.7 23.3 Q6.9 23.3 6.9 20.6 Z" fill="#6fa2d0" stroke="none"></path>
  <path d="M1.2 4.9 L3.8 7.1 M6.6 1.7 L8.4 4.2 M13.3 1.7 L11.5 4.2 M18.7 4.9 L16.1 7.1" stroke-width="1.1"></path>
  <path d="M10.6 7.4 Q13.4 8 13.8 10.8" stroke-width=".9"></path></svg>
  <div class="abs" style="left:11px;top:461.3px;width:317px;height:93.5px;background:#fff;border:1px solid #f5a25a;border-radius:4px;overflow:hidden"><div class="abs" style="left:0;top:56px;width:317px;height:37px;background:#f4f7fc"></div></div>
  <div class="abs" style="left:17.3px;top:469px;width:1.2px;height:13px;background:#16325c"></div>
  <svg class="abs" style="left:22.5px;top:527px" width="18" height="17" viewBox="0 0 18 17">
  <circle cx="1.6" cy="2.6" r="0.7" fill="#808080"></circle><circle cx="7.4" cy="2.4" r="1.3" fill="#858585"></circle><circle cx="14.6" cy="2.4" r="2.2" fill="#858585"></circle>
  <path d="M0.8 16 L4.6 6.4 L6.6 6.4 L10.4 16 L8.6 16 L7.7 13.6 L3.5 13.6 L2.6 16 Z M4.1 12 L7.1 12 L5.6 8.2 Z" fill="#747474"></path>
  <rect x="12" y="6.4" width="1.9" height="9.6" fill="#747474"></rect></svg>
  <svg class="abs" style="left:52px;top:527.5px" width="13" height="17" viewBox="0 0 13 17">
  <rect x="4" y="0.4" width="5" height="9.6" rx="2.5" fill="#16325c"></rect>
  <path d="M1.6 7 V8 Q1.6 12.4 6.5 12.4 Q11.4 12.4 11.4 8 V7" fill="none" stroke="#16325c" stroke-width="1.5"></path>
  <path d="M6.5 12.4 V16.4" stroke="#16325c" stroke-width="1.6"></path></svg>
  <svg class="abs" style="left:343px;top:501px" width="18" height="14" viewBox="0 0 18 14"><path d="M0.6 0.6 L17.2 7 L0.6 13.4 L4 7.8 L11 7 L4 6.2 Z" fill="#8fa6c4"></path></svg>
  <span class="abs" style="left: 10.7px; top: 556.6px; font-size: 11px; line-height: 14px; font-style: italic; color: rgb(154, 181, 214); white-space: nowrap; letter-spacing: -0.2px;">Maximum number of characters is 300</span>
  <div class="abs" style="left:291.7px;top:554.7px;width:33.3px;height:18.3px;background:#1b9be3;border-radius:0 0 4px 4px"></div>
  <span class="abs" style="left: 297.3px; top: 559px; font-size: 9.5px; line-height: 11px; font-weight: 700; color: rgb(255, 255, 255); letter-spacing: -0.28px; transform: scaleX(0.916); transform-origin: 0px 50%;">BETA</span>
</div>

<!-- NAV -->
<div id="nav" class="abs">
  <div class="abs" style="left:908.3px;top:0;width:86.7px;height:70px;background:#0e2a4f"></div>
  <svg class="abs" style="left:21px;top:20.5px" width="29" height="29" viewBox="0 0 29 29" fill="none"><circle cx="14.3" cy="14.5" r="12.6" stroke="#c5d3e8" stroke-width="1.4"></circle><path d="M14.3 9 V20 M8.8 14.5 H19.8" stroke="#e8eef7" stroke-width="1.6"></path></svg>
  <span class="abs nl" style="left: 88.3px; top: 44px; letter-spacing: -0.42px; transform: scaleX(0.969); transform-origin: 0px 50%;">Navigator</span>
  <span class="abs nl" style="left: 179px; top: 44px; letter-spacing: -0.42px; transform: scaleX(0.924); transform-origin: 0px 50%;">Leads</span>
  <span class="abs nl" style="left: 248.3px; top: 44px; letter-spacing: -0.42px; transform: scaleX(0.977); transform-origin: 0px 50%;">Opportunities</span>
  <span class="abs nl" style="left: 360.7px; top: 44px; letter-spacing: -0.42px; transform: scaleX(0.97); transform-origin: 0px 50%;">Accounts</span>
  <span class="abs nl" style="left: 450px; top: 44px; letter-spacing: -0.42px; transform: scaleX(0.964); transform-origin: 0px 50%;">Contacts</span>
  <span class="abs nl" style="left: 536.7px; top: 44px; letter-spacing: -0.42px; transform: scaleX(0.999); transform-origin: 0px 50%;">Activities</span>
  <span class="abs nl" style="left: 624px; top: 44px; letter-spacing: -0.42px; transform: scaleX(0.939); transform-origin: 0px 50%;">Quotes</span>
  <span class="abs nl" style="left: 700px; top: 44px; letter-spacing: -0.42px; transform: scaleX(0.974); transform-origin: 0px 50%;">Projects</span>
  <span class="abs nl" style="left: 782.3px; top: 44px; letter-spacing: -0.42px; transform: scaleX(0.955); transform-origin: 0px 50%;">Assets</span>
  <span class="abs nl" style="left: 856.7px; top: 44px; letter-spacing: -0.42px; transform: scaleX(0.904); transform-origin: 0px 50%;">Feeds</span>
  <span class="abs nl" style="left: 926.7px; top: 44px; letter-spacing: -0.42px; transform: scaleX(0.957); transform-origin: 0px 50%;">Analytics</span>
  <span class="abs nl" style="left: 1013.3px; top: 44px; letter-spacing: -0.42px; transform: scaleX(0.94); transform-origin: 0px 50%;">Approvals</span>
  <svg class="abs" style="left:102px;top:12px" width="27" height="27" viewBox="0 0 27 27">
  <rect x="1.8" y="1.4" width="23.6" height="19.4" rx="2" fill="#1f4578" stroke="#fff" stroke-width="1.6"></rect>
  <g fill="#fff"><rect x="4.6" y="14.6" width="1.7" height="2.6"></rect><rect x="7" y="13.2" width="1.7" height="4"></rect><rect x="9.4" y="11.6" width="1.7" height="5.6"></rect><rect x="11.8" y="12.8" width="1.7" height="4.4"></rect><rect x="14.2" y="13.6" width="1.7" height="3.6"></rect><rect x="16.6" y="11.8" width="1.7" height="5.4"></rect><rect x="19" y="9.6" width="1.7" height="7.6"></rect><rect x="21.3" y="8.4" width="1.6" height="8.8"></rect></g>
  <path d="M5.2 11.8 L10.4 8 L15.4 11 L21.8 5.6" fill="none" stroke="#9db7d9" stroke-width="1.3"></path>
  <g fill="#9db7d9"><circle cx="5.2" cy="11.8" r="1.5"></circle><circle cx="10.4" cy="8" r="1.5"></circle><circle cx="15.4" cy="11" r="1.5"></circle><circle cx="21.8" cy="5.6" r="1.5"></circle></g>
  <path d="M10.8 21.6 H16.4 V23.6 H19 V25.6 H8.2 V23.6 H10.8 Z" fill="#9db7d9"></path>
</svg>
  <svg class="abs" style="left:182px;top:12px" width="28" height="27" viewBox="0 0 28 27">
  <path d="M1 16.6 V21.2 C1 24 6.6 25.8 13.6 25.8 C20.6 25.8 26.2 24 26.2 21.2 V16.6 Z" fill="#fff"></path>
  <ellipse cx="13.6" cy="16.6" rx="12.6" ry="3.9" fill="#9db7d9"></ellipse>
  <rect x="12.6" y="1" width="1.8" height="16.4" fill="#fff"></rect>
  <path d="M14.4 1.2 H24.4 L22.2 4.2 L24.4 7.4 H14.4 Z" fill="#c9d8ec"></path>
</svg>
  <svg class="abs" style="left:273px;top:14px" width="27" height="24" viewBox="0 0 27 24">
  <rect x="0.8" y="0.5" width="25.3" height="5.8" rx="2.9" fill="#fff"></rect><rect x="0.8" y="8.7" width="25.3" height="6" rx="3" fill="#9db7d9"></rect><rect x="0.8" y="17.3" width="25.3" height="5.8" rx="2.9" fill="#fff"></rect>
  <circle cx="4" cy="3.4" r="1.1" fill="#284f87"></circle><circle cx="4" cy="11.7" r="1.1" fill="#284f87"></circle><circle cx="4" cy="20.2" r="1.1" fill="#284f87"></circle>
</svg>
  <svg class="abs" style="left:373px;top:12px" width="28" height="27" viewBox="0 0 28 27">
  <path d="M0.8 3 Q0.8 1 2.8 1 H11.6 Q13.6 1 13.6 3 V25.8 H9.2 V20.6 H5.2 V25.8 H0.8 Z" fill="#fff"></path>
  <g fill="#284f87"><circle cx="4.6" cy="5.6" r="1.4"></circle><circle cx="9.8" cy="5.6" r="1.4"></circle><circle cx="4.6" cy="10.6" r="1.4"></circle><circle cx="9.8" cy="10.6" r="1.4"></circle><circle cx="4.6" cy="15.6" r="1.4"></circle><circle cx="9.8" cy="15.6" r="1.4"></circle></g>
  <path d="M15.6 12.6 L18.4 10 L27 14.6 V25.8 H23.4 V21.4 H19.6 V25.8 H15.6 Z" fill="#9db7d9"></path>
  <rect x="17.4" y="15.6" width="3" height="2.6" fill="#284f87"></rect><rect x="22" y="15.6" width="3" height="2.6" fill="#284f87"></rect>
</svg>
  <svg class="abs" style="left:461px;top:16px" width="27" height="20" viewBox="0 0 27 20">
  <path d="M1 2.8 Q1 0.8 3 0.8 H24.2 Q26.2 0.8 26.2 2.8 V17 Q26.2 19 24.2 19 H21.6 V16.4 H17.6 V19 H9.6 V16.4 H5.6 V19 H3 Q1 19 1 17 Z" fill="#a9c0de"></path>
  <circle cx="9" cy="6.6" r="2.7" fill="#284f87"></circle><path d="M4.2 13.6 Q4.2 10.2 9 10.2 Q13.8 10.2 13.8 13.6 V14 H4.2 Z" fill="#284f87"></path>
  <rect x="16.4" y="4.4" width="6.6" height="1.5" fill="#284f87"></rect><rect x="16.4" y="7.4" width="6.6" height="1.5" fill="#284f87"></rect><rect x="16.4" y="10.4" width="6.6" height="1.5" fill="#284f87"></rect>
</svg>
  <svg class="abs" style="left:548px;top:12px" width="28" height="27" viewBox="0 0 28 27">
  <path d="M9 11 H25 Q27.2 11 27.2 13.2 V20.8 Q27.2 23 25 23 H24.6 V25.8 L20.6 23 H11.2 Q9 23 9 20.8 Z" fill="#9db7d9"></path>
  <rect x="0.6" y="1" width="21" height="15.8" rx="2.6" fill="#eef3fa" stroke="#284f87" stroke-width=".6"></rect>
  <path d="M5.4 8.4 L9 12 L16.6 4.8" fill="none" stroke="#1f3f70" stroke-width="2.4"></path>
</svg>
  <svg class="abs" style="left:630px;top:12px" width="27" height="27" viewBox="0 0 27 27">
  <rect x="2" y="2.3" width="23" height="22.6" rx="4.2" fill="none" stroke="#fff" stroke-width="1.9"></rect>
  <circle cx="8" cy="8.4" r="1.9" fill="#9db7d9"></circle><rect x="11.6" y="7.2" width="8.8" height="2.4" fill="#9db7d9"></rect>
  <rect x="5.8" y="12.6" width="15" height="2.8" fill="#9db7d9"></rect><rect x="5.8" y="17.6" width="15" height="2.8" fill="#9db7d9"></rect>
</svg>
  <svg class="abs" style="left:709px;top:15px" width="28" height="22" viewBox="0 0 28 22">
  <path d="M1.6 4.2 L4.2 6.8 L9.8 1.6" fill="none" stroke="#fff" stroke-width="2.2"></path>
  <path d="M1.6 16.4 L4.2 19 L9.8 13.8" fill="none" stroke="#fff" stroke-width="2.2"></path>
  <rect x="14.2" y="0.8" width="12.8" height="2.8" fill="#9db7d9"></rect><rect x="14.2" y="6" width="6.6" height="2.4" fill="#9db7d9"></rect>
  <rect x="14.2" y="13.2" width="12.8" height="2.8" fill="#9db7d9"></rect><rect x="14.2" y="18.4" width="6.6" height="2.4" fill="#9db7d9"></rect>
</svg>
  <svg class="abs" style="left:788px;top:13px" width="28" height="26" viewBox="0 0 28 26">
  <path d="M1 4 V21 C1 23.4 6.6 24.8 13.6 24.8 C20.6 24.8 26.2 23.4 26.2 21 V4 Z" fill="#fff"></path>
  <ellipse cx="13.6" cy="4" rx="12.6" ry="2.9" fill="#b5c9e3"></ellipse>
  <path d="M1 10.2 C3 12.2 8 12.8 13.6 12.8 C19.2 12.8 24.2 12.2 26.2 10.2" fill="none" stroke="#284f87" stroke-width="1.2"></path>
  <path d="M1 16.2 C3 18.2 8 18.8 13.6 18.8 C19.2 18.8 24.2 18.2 26.2 16.2" fill="none" stroke="#284f87" stroke-width="1.2"></path>
  <rect x="11.4" y="9" width="4.4" height="1.3" fill="#284f87"></rect><rect x="11.4" y="15" width="4.4" height="1.3" fill="#284f87"></rect><rect x="11.4" y="21" width="4.4" height="1.3" fill="#284f87"></rect>
</svg>
  <svg class="abs" style="left:860px;top:16px" width="28" height="20" viewBox="0 0 28 20">
  <path d="M1.2 5.8 Q1.2 4.8 2.2 4.8 H12.8 Q13.8 4.8 13.8 5.8 V12.4 Q13.8 13.4 12.8 13.4 H11 L8.8 16.2 L6.8 13.4 H2.2 Q1.2 13.4 1.2 12.4 Z" fill="#fff"></path>
  <path d="M13.8 9.4 H23 M18.9 2.3 V17.7 M18.9 2.3 H23 M18.9 17.7 H23" fill="none" stroke="#9db7d9" stroke-width="1.2"></path>
  <rect x="23" y="0.8" width="3" height="3" fill="#fff"></rect><rect x="23" y="7.9" width="3" height="3" fill="#fff"></rect><rect x="23" y="16.2" width="3" height="3" fill="#fff"></rect>
</svg>
  <svg class="abs" style="left:938px;top:12px" width="27" height="27" viewBox="0 0 27 27">
  <g fill="#29b6e8"><rect x="1" y="19" width="4.6" height="6.8"></rect><rect x="7.6" y="14" width="4.6" height="11.8"></rect><rect x="14.2" y="16.4" width="4.6" height="9.4"></rect><rect x="20.8" y="10" width="4.8" height="15.8"></rect></g>
  <path d="M3 12.8 L10 6.2 L17 8.6 L23.6 2.8" fill="none" stroke="#f47b20" stroke-width="1.5"></path>
  <g fill="#f47b20"><circle cx="3" cy="12.8" r="1.9"></circle><circle cx="10" cy="6.2" r="1.9"></circle><circle cx="17" cy="8.6" r="1.9"></circle><circle cx="23.6" cy="2.8" r="1.9"></circle></g>
</svg>
  <svg class="abs" style="left:1043px;top:12px" width="28" height="27" viewBox="0 0 28 27">
  <path d="M9.4 6 V3.4 Q9.4 1.2 11.6 1.2 H16 Q18.2 1.2 18.2 3.4 V6" fill="none" stroke="#fff" stroke-width="2"></path>
  <rect x="1.1" y="5.6" width="25.2" height="20.2" rx="3.4" fill="#fff"></rect>
  <path d="M1.1 15.8 H26.3" stroke="#284f87" stroke-width="1.2"></path>
  <rect x="11.6" y="11.6" width="4.2" height="8" rx="1.4" fill="#dfe8f4" stroke="#284f87" stroke-width="1.2"></rect>
</svg>
  <div class="abs" style="left:1073.3px;top:46.4px;width:26.7px;height:11.8px;background:#4cb07c;border-radius:3px"></div>
  <span class="abs" style="left: 1077.3px; top: 47.5px; font-size: 9.5px; line-height: 10px; font-weight: 700; color: rgb(255, 255, 255); letter-spacing: -0.28px; transform: scaleX(0.877); transform-origin: 0px 50%;">NEW</span>
  <svg class="abs" style="left:1129px;top:31.5px" width="21" height="8" viewBox="0 0 21 8" fill="#fff"><circle cx="3.5" cy="4" r="2.3"></circle><circle cx="10.3" cy="4" r="2.3"></circle><circle cx="17" cy="4" r="2.3"></circle></svg>
  <svg class="abs" style="left:1198px;top:20px" width="30" height="30" viewBox="0 0 30 30">
  <path d="M3.2 14.5 V12.4 C3.2 5.8 8.2 2 14.8 2 C21.4 2 26.4 5.8 26.4 12.4 V14.5" fill="none" stroke="#9db7d9" stroke-width="1.9"></path>
  <ellipse cx="14.8" cy="15.2" rx="7.6" ry="10.3" fill="#fff"></ellipse>
  <rect x="1.6" y="11.6" width="4.6" height="9.6" rx="2" fill="#9db7d9"></rect><rect x="23.4" y="11.6" width="4.6" height="9.6" rx="2" fill="#9db7d9"></rect>
  <path d="M26 20.6 C25.6 24.6 21 26.6 15.4 27.4" fill="none" stroke="#9db7d9" stroke-width="1.5"></path>
  <ellipse cx="14" cy="27.6" rx="2.6" ry="1.6" fill="#9db7d9"></ellipse>
</svg>
  <svg class="abs" style="left:1238px;top:5px" width="18" height="18" viewBox="0 0 18 18" fill="none"><circle cx="9" cy="9" r="7.8" stroke="#5f84bb" stroke-width="1.2"></circle><path d="M5.4 7.4 L9 11 L12.6 7.4" stroke="#c9d8ee" stroke-width="1.4"></path></svg>
</div>

</div>


</body></html>
